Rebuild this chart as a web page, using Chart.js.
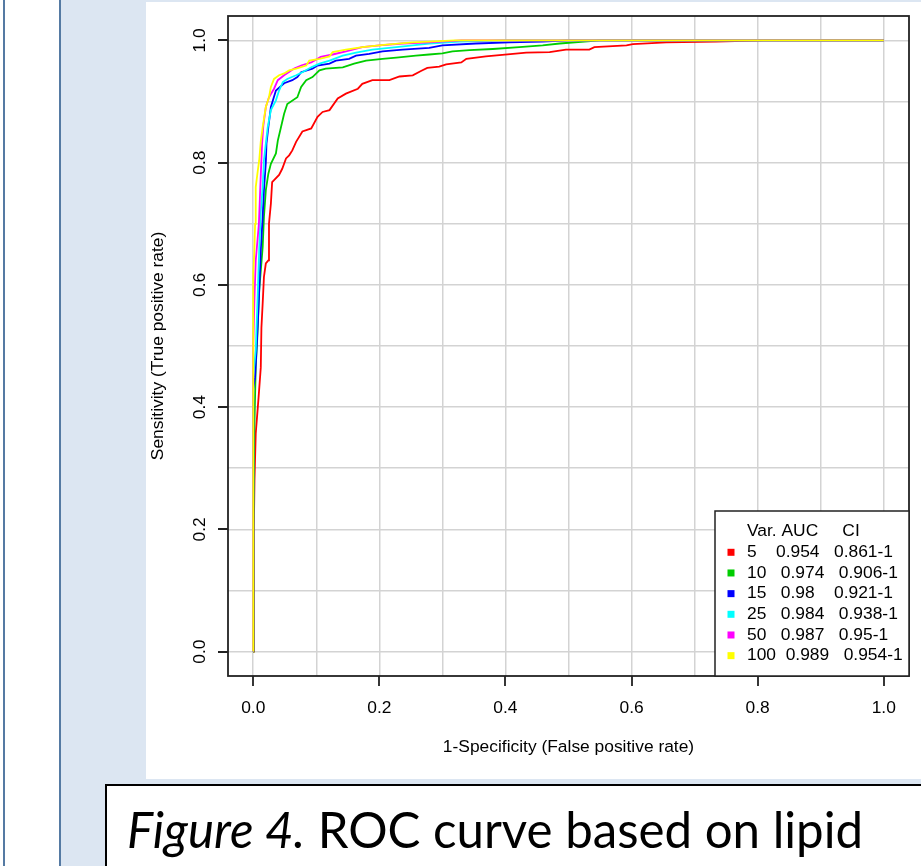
<!DOCTYPE html>
<html>
<head>
<meta charset="utf-8">
<script src="https://cdn.jsdelivr.net/npm/chart.js@4/dist/chart.umd.min.js"></script>
<style>
  html, body { margin: 0; padding: 0; }
  body { width: 921px; height: 866px; position: relative; overflow: hidden; background: #ffffff; }
  .rule { position: absolute; top: 0; width: 2px; height: 866px; background: #557aa3; }
  #bluePane { position: absolute; left: 61px; top: 0; width: 860px; height: 866px; background: #dce6f2; }
  #chartPane { position: absolute; left: 146px; top: 2px; width: 775px; height: 777px; background: #ffffff; }
  #chartPane canvas { display: block; }
  #captionBox { position: absolute; left: 105px; top: 784px; width: 900px; height: 120px;
    background: #ffffff; border-left: 2.5px solid #000; border-top: 2.5px solid #000; }
  #caption { position: absolute; left: 0; top: 0; white-space: nowrap; font-family: Lato, "Open Sans", sans-serif;
    font-size: 50px; line-height: 1; color: #000; transform-origin: 0 0; }
  #caption i { font-style: italic; }
  #baseMark { display: inline-block; width: 0; height: 0; }
</style>
</head>
<body>
<div class="rule" style="left:3px"></div>
<div class="rule" style="left:59px"></div>
<div id="bluePane"></div>
<div id="chartPane"><canvas id="roc" width="775" height="777"></canvas></div>
<div id="captionBox"></div>
<div id="caption"><i>Figure 4.</i> ROC curve based on lipid<span id="baseMark"></span></div>
<script>
// Number of variables in each model, with its AUC and confidence interval
const varCounts = [5, 10, 15, 25, 50, 100];
const aucValues = ['0.954', '0.974', '0.98', '0.984', '0.987', '0.989'];
const ciRanges  = ['0.861-1', '0.906-1', '0.921-1', '0.938-1', '0.95-1', '0.954-1'];
const curveColors = ['#ff0000', '#00cd00', '#0000ff', '#00ffff', '#ff00ff', '#ffff00'];

// ROC curves: false positive rate (1-specificity) and true positive rate (sensitivity)
const fpr5 = [0, 0.001, 0.002, 0.004, 0.0085, 0.012, 0.013, 0.015, 0.017, 0.020, 0.024, 0.025, 0.028, 0.030, 0.041, 0.046, 0.052, 0.057, 0.062, 0.068, 0.078, 0.092, 0.102, 0.110, 0.121, 0.134, 0.147, 0.166, 0.173, 0.189, 0.216, 0.232, 0.253, 0.266, 0.276, 0.295, 0.306, 0.330, 0.338, 0.369, 0.412, 0.433, 0.470, 0.496, 0.533, 0.541, 0.592, 0.602, 0.655, 0.734, 0.810, 1];
const tpr5 = [0, 0.200, 0.280, 0.357, 0.416, 0.465, 0.530, 0.570, 0.613, 0.635, 0.640, 0.700, 0.733, 0.768, 0.780, 0.790, 0.807, 0.812, 0.820, 0.834, 0.851, 0.856, 0.875, 0.883, 0.886, 0.905, 0.913, 0.921, 0.929, 0.935, 0.935, 0.941, 0.943, 0.950, 0.955, 0.957, 0.961, 0.964, 0.970, 0.974, 0.978, 0.980, 0.981, 0.985, 0.985, 0.989, 0.992, 0.994, 0.997, 0.998, 1, 1];

const fpr10 = [0, 0, 0.001, 0.0016, 0.004, 0.0065, 0.0095, 0.015, 0.017, 0.020, 0.024, 0.028, 0.036, 0.039, 0.044, 0.049, 0.054, 0.070, 0.076, 0.084, 0.094, 0.105, 0.115, 0.142, 0.160, 0.179, 0.205, 0.227, 0.258, 0.279, 0.300, 0.316, 0.343, 0.380, 0.422, 0.459, 0.486, 0.550, 1];
const tpr10 = [0, 0.075, 0.200, 0.357, 0.466, 0.515, 0.591, 0.662, 0.711, 0.755, 0.782, 0.798, 0.815, 0.836, 0.858, 0.880, 0.896, 0.907, 0.924, 0.935, 0.940, 0.951, 0.954, 0.956, 0.962, 0.967, 0.970, 0.972, 0.975, 0.977, 0.979, 0.982, 0.984, 0.986, 0.989, 0.992, 0.995, 1, 1];

const fpr15 = [0, 0, 0.003, 0.007, 0.0095, 0.012, 0.015, 0.017, 0.020, 0.021, 0.024, 0.028, 0.036, 0.049, 0.062, 0.070, 0.076, 0.094, 0.102, 0.121, 0.131, 0.152, 0.163, 0.184, 0.205, 0.237, 0.279, 0.300, 0.353, 0.406, 0.459, 0.500, 1];
const tpr15 = [0, 0.430, 0.449, 0.531, 0.591, 0.657, 0.711, 0.755, 0.800, 0.831, 0.858, 0.891, 0.918, 0.930, 0.935, 0.940, 0.948, 0.954, 0.959, 0.962, 0.967, 0.970, 0.975, 0.978, 0.982, 0.985, 0.988, 0.992, 0.995, 0.997, 0.998, 1, 1];

const fpr25 = [0, 0, 0.004, 0.007, 0.0095, 0.012, 0.015, 0.017, 0.023, 0.028, 0.036, 0.041, 0.047, 0.054, 0.068, 0.078, 0.092, 0.105, 0.121, 0.142, 0.163, 0.189, 0.227, 0.253, 0.279, 0.327, 0.400, 1];
const tpr25 = [0, 0.450, 0.493, 0.580, 0.657, 0.720, 0.760, 0.804, 0.858, 0.886, 0.902, 0.918, 0.932, 0.937, 0.943, 0.948, 0.956, 0.962, 0.967, 0.975, 0.980, 0.985, 0.989, 0.992, 0.995, 0.998, 1, 1];

const fpr50 = [0, 0, 0.002, 0.004, 0.009, 0.012, 0.014, 0.016, 0.020, 0.025, 0.033, 0.039, 0.049, 0.065, 0.076, 0.092, 0.107, 0.126, 0.147, 0.173, 0.200, 0.237, 0.279, 0.330, 1];
const tpr50 = [0, 0.500, 0.580, 0.640, 0.700, 0.780, 0.830, 0.860, 0.891, 0.907, 0.921, 0.935, 0.943, 0.954, 0.959, 0.964, 0.973, 0.977, 0.982, 0.989, 0.992, 0.995, 0.997, 1, 1];

const fpr100 = [0, 0, 0.0016, 0.003, 0.004, 0.007, 0.0095, 0.012, 0.015, 0.020, 0.025, 0.028, 0.033, 0.041, 0.049, 0.057, 0.068, 0.084, 0.089, 0.105, 0.121, 0.126, 0.147, 0.173, 0.211, 0.253, 0.279, 0.320, 1];
const tpr100 = [0, 0.620, 0.650, 0.700, 0.760, 0.785, 0.804, 0.835, 0.858, 0.891, 0.907, 0.924, 0.937, 0.943, 0.946, 0.951, 0.954, 0.959, 0.967, 0.970, 0.974, 0.981, 0.985, 0.989, 0.993, 0.997, 0.998, 1, 1];

const fprSeries = [fpr5, fpr10, fpr15, fpr25, fpr50, fpr100];
const tprSeries = [tpr5, tpr10, tpr15, tpr25, tpr50, tpr100];

// Axis ticks, labels and grid positions
const gridSteps  = [0, 0.1, 0.2, 0.3, 0.4, 0.5, 0.6, 0.7, 0.8, 0.9, 1.0];
const tickValues = [0, 0.2, 0.4, 0.6, 0.8, 1.0];
const tickLabels = ['0.0', '0.2', '0.4', '0.6', '0.8', '1.0'];
const xTitle = '1-Specificity (False positive rate)';
const yTitle = 'Sensitivity (True positive rate)';
const legendHeader = 'Var. AUC     CI';

const FONT = '17.4px "Liberation Sans", Arial, sans-serif';

// Spaces between legend columns
const gapAfterVar = [4, 3, 3, 3, 3, 2];
const gapAfterAuc = [3, 3, 4, 3, 3, 3];
const legendRows = varCounts.map((v, i) =>
  String(v) + ' '.repeat(gapAfterVar[i]) + aucValues[i] + ' '.repeat(gapAfterAuc[i]) + ciRanges[i]);

const axesPlugin = {
  id: 'axesFrame',
  afterDatasetsDraw(chart) {
    const { ctx, chartArea: a, scales: { x, y } } = chart;
    ctx.save();
    // plot frame
    ctx.strokeStyle = '#222';
    ctx.lineWidth = 1.8;
    ctx.strokeRect(a.left, a.top, a.right - a.left, a.bottom - a.top);

    // tick marks
    ctx.beginPath();
    tickValues.forEach(v => {
      const px = Math.round(x.getPixelForValue(v));
      ctx.moveTo(px, a.bottom); ctx.lineTo(px, a.bottom + 10);
      const py = Math.round(y.getPixelForValue(v));
      ctx.moveTo(a.left, py); ctx.lineTo(a.left - 10, py);
    });
    ctx.stroke();

    // tick labels
    ctx.fillStyle = '#000';
    ctx.font = FONT;
    ctx.textAlign = 'center';
    ctx.textBaseline = 'middle';
    tickValues.forEach((v, i) => {
      ctx.fillText(tickLabels[i], x.getPixelForValue(v), a.bottom + 32);
      ctx.save();
      ctx.translate(a.left - 28, y.getPixelForValue(v));
      ctx.rotate(-Math.PI / 2);
      ctx.fillText(tickLabels[i], 0, 0);
      ctx.restore();
    });

    // axis titles
    ctx.fillText(xTitle, (a.left + a.right) / 2, a.bottom + 71);
    ctx.save();
    ctx.translate(a.left - 70, (a.top + a.bottom) / 2);
    ctx.rotate(-Math.PI / 2);
    ctx.fillText(yTitle, 0, 0);
    ctx.restore();

    // legend
    const lw = 194, lh = 165;
    const lx = a.right - lw, ly = a.bottom - lh;
    ctx.fillStyle = '#fff';
    ctx.fillRect(lx, ly, lw, lh);
    ctx.strokeStyle = '#222';
    ctx.lineWidth = 1.5;
    ctx.strokeRect(lx, ly, lw, lh);
    ctx.fillStyle = '#000';
    ctx.textAlign = 'left';
    ctx.fillText(legendHeader, lx + 32, ly + 20.7);
    legendRows.forEach((row, i) => {
      const cy = ly + 41.3 + i * 20.67;
      ctx.fillStyle = curveColors[i];
      ctx.fillRect(lx + 12.5, cy - 3.5, 7, 7);
      ctx.fillStyle = '#000';
      ctx.fillText(row, lx + 32, cy);
    });
    ctx.restore();
  }
};

const datasets = fprSeries.map((fpr, i) => ({
  label: String(varCounts[i]),
  data: fpr.map((fx, j) => ({ x: fx, y: tprSeries[i][j] })),
  borderColor: curveColors[i],
  backgroundColor: curveColors[i],
  borderWidth: 1.8,
  pointRadius: 0,
  fill: false,
  tension: 0,
  order: varCounts.length - i
}));

const gridStyle = { color: '#d3d3d3', lineWidth: 1.5, drawTicks: false };

new Chart(document.getElementById('roc'), {
  type: 'line',
  data: { datasets },
  options: {
    responsive: false,
    animation: false,
    devicePixelRatio: 1,
    layout: { padding: { top: 14, right: 12, left: 0, bottom: 0 } },
    plugins: { legend: { display: false }, tooltip: { enabled: false } },
    scales: {
      x: {
        type: 'linear', min: -0.04, max: 1.04,
        afterBuildTicks: s => { s.ticks = gridSteps.map(v => ({ value: v })); },
        afterFit: s => { s.height = 103; },
        grid: gridStyle, border: { display: false }, ticks: { display: false }
      },
      y: {
        type: 'linear', min: -0.04, max: 1.04,
        afterBuildTicks: s => { s.ticks = gridSteps.map(v => ({ value: v })); },
        afterFit: s => { s.width = 82; },
        grid: gridStyle, border: { display: false }, ticks: { display: false }
      }
    }
  },
  plugins: [axesPlugin]
});

// Caption: fit its width and put its baseline in place
(function placeCaption() {
  const cap = document.getElementById('caption');
  const mark = document.getElementById('baseMark');
  const w = cap.getBoundingClientRect().width;
  const targetW = 736, baseline = 848, leftX = 127;
  const sx = targetW / w;
  const baseOffset = mark.getBoundingClientRect().top - cap.getBoundingClientRect().top;
  cap.style.left = leftX + 'px';
  cap.style.top = (baseline - baseOffset) + 'px';
  cap.style.transform = 'scaleX(' + sx.toFixed(4) + ')';
})();
</script>
</body>
</html>
